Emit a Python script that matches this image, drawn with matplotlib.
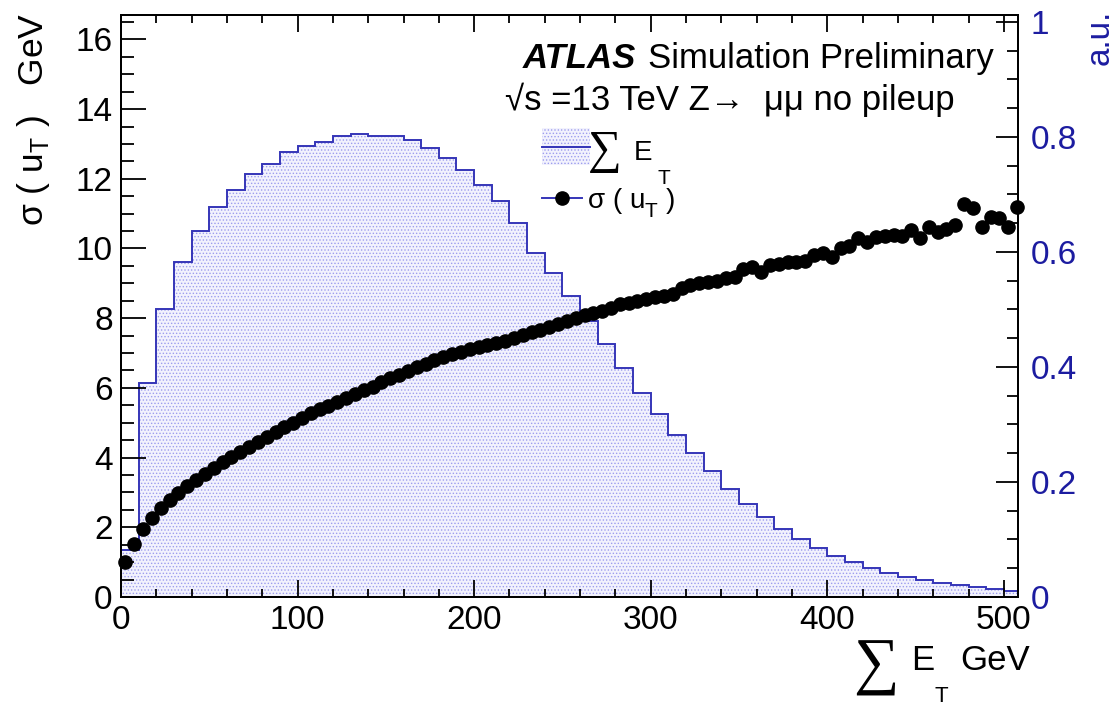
import numpy as np
import matplotlib.pyplot as plt
from matplotlib.patches import Rectangle
from matplotlib.lines import Line2D
from matplotlib.ticker import MultipleLocator, FuncFormatter

plt.rcParams['font.family'] = ['Liberation Sans', 'DejaVu Sans']
plt.rcParams['mathtext.fontset'] = 'custom'
plt.rcParams['mathtext.rm'] = 'Liberation Sans'
plt.rcParams['hatch.linewidth'] = 0.6

# sum E_T distribution, 10 GeV bins (a.u.)
bin_edges = np.arange(0, 520, 10)
hist_vals = [0.082, 0.372, 0.501, 0.583, 0.637, 0.679, 0.708, 0.736, 0.753, 0.773,
             0.785, 0.792, 0.801, 0.805, 0.802, 0.802, 0.794, 0.780, 0.763, 0.743,
             0.717, 0.688, 0.650, 0.599, 0.564, 0.524, 0.480, 0.440, 0.398, 0.355,
             0.319, 0.281, 0.251, 0.219, 0.188, 0.162, 0.139, 0.119, 0.100, 0.085,
             0.072, 0.060, 0.050, 0.042, 0.035, 0.030, 0.025, 0.021, 0.017, 0.014,
             0.011]

# sigma(u_T) in GeV, 5 GeV steps
sigma_x = np.arange(2.5, 510, 5)
sigma_vals = [1.00, 1.52, 1.94, 2.28, 2.54, 2.78, 2.98, 3.18, 3.36, 3.52,
              3.69, 3.88, 4.03, 4.17, 4.31, 4.46, 4.60, 4.74, 4.89, 5.00,
              5.13, 5.27, 5.39, 5.48, 5.60,
              5.71, 5.82, 5.93, 6.04, 6.16, 6.27, 6.38, 6.49, 6.59, 6.69,
              6.79, 6.88, 6.96, 7.04, 7.11, 7.18, 7.24, 7.30, 7.36, 7.44,
              7.51, 7.59, 7.66, 7.74, 7.82,
              7.93, 8.02, 8.09, 8.15, 8.20, 8.30, 8.40, 8.44, 8.48, 8.55,
              8.60, 8.63, 8.68, 8.88, 8.95, 9.00, 9.04, 9.08, 9.14, 9.19,
              9.40, 9.46, 9.32, 9.52, 9.56,
              9.60, 9.62, 9.65, 9.81, 9.86, 9.77, 10.00, 10.07, 10.29, 10.20,
              10.32, 10.36, 10.39, 10.36, 10.53, 10.29, 10.61, 10.48, 10.55, 10.67,
              11.28, 11.15, 10.63, 10.91, 10.87, 10.63, 11.20]

W, H = 1116, 707
blue_line = '#3535b8'
blue_txt = '#1c1ca0'
fill_face = '#f2f2fd'
hatch_col = '#9c9cee'


def px(x, y):
    return x / W, 1 - y / H


fig = plt.figure(figsize=(W / 100, H / 100), dpi=100)
rect = [121 / W, 1 - 597 / H, (1018 - 121) / W, (597 - 15) / H]
ax = fig.add_axes(rect)
ax2 = ax.twinx()
ax.set_zorder(2)
ax2.set_zorder(1)
ax.patch.set_visible(False)
ax2.patch.set_visible(True)
ax2.patch.set_facecolor('white')

ax2.stairs(hist_vals, bin_edges, fill=True, facecolor=fill_face,
           edgecolor=hatch_col, hatch='.....', linewidth=0)
ax2.stairs(hist_vals, bin_edges, color=blue_line, linewidth=1.4)
ax.plot(sigma_x, sigma_vals, 'o', color='black', ms=9.5, clip_on=False)

ax.set_xlim(0, 508)
ax.set_ylim(0, 16.7)
ax2.set_ylim(0, 1.012)

fmt = FuncFormatter(lambda v, p: '%g' % round(v, 3))
ax.xaxis.set_major_locator(MultipleLocator(100))
ax.xaxis.set_minor_locator(MultipleLocator(20))
ax.yaxis.set_major_locator(MultipleLocator(2))
ax.yaxis.set_minor_locator(MultipleLocator(0.5))
ax.yaxis.set_major_formatter(fmt)
ax2.yaxis.set_major_locator(MultipleLocator(0.2))
ax2.yaxis.set_minor_locator(MultipleLocator(0.05))
ax2.yaxis.set_major_formatter(fmt)

ax.tick_params(which='both', direction='in', top=True, right=False,
               labelsize=24, width=1.3, pad=6)
ax.tick_params(axis='x', which='major', length=12)
ax.tick_params(axis='x', which='minor', length=6)
ax.tick_params(axis='y', which='major', length=18)
ax.tick_params(axis='y', which='minor', length=9)
ax2.tick_params(which='both', direction='in', labelsize=24, width=1.3,
                labelcolor=blue_txt, pad=9)
ax2.tick_params(which='major', length=16)
ax2.tick_params(which='minor', length=8)
for a in (ax, ax2):
    for s in a.spines.values():
        s.set_linewidth(1.4)

# axis titles
fig.text(*px(34, 13), 'σ ( u$_{\\mathregular{T}}$ )   GeV', rotation=90,
         fontsize=25.5, ha='center', va='top')
fig.text(*px(1100, 10), 'a.u.', rotation=90, fontsize=24, color=blue_txt,
         ha='center', va='top')
fig.text(*px(876, 668), '∑', fontsize=46, ha='center', va='center',
         family=['Liberation Serif', 'DejaVu Serif'])
fig.text(*px(911, 661), 'E', fontsize=25, ha='left', va='center')
fig.text(*px(941, 697), 'T', fontsize=16, ha='center', va='center')
fig.text(*px(960, 661), 'GeV', fontsize=25, ha='left', va='center')

# ATLAS label
fig.text(*px(523, 68), 'ATLAS', fontsize=25, fontweight='bold',
         fontstyle='italic', va='baseline')
fig.text(*px(648, 68), 'Simulation Preliminary', fontsize=25, va='baseline')
fig.text(*px(505, 110), '√s =13 TeV Z→  μμ no pileup', fontsize=25,
         va='baseline')

# legend
x0, y0 = px(542, 165)
fig.add_artist(Rectangle((x0, y0), 48 / W, 37 / H, transform=fig.transFigure,
                         facecolor=fill_face, edgecolor=hatch_col,
                         hatch='.....', linewidth=0, zorder=5))
fig.add_artist(Line2D([542 / W, 590 / W], [1 - 147 / H] * 2,
                      transform=fig.transFigure, color=blue_line, lw=1.4,
                      zorder=6))
fig.add_artist(Line2D([542 / W, 582 / W], [1 - 198 / H] * 2,
                      transform=fig.transFigure, color=blue_line, lw=1.4,
                      zorder=6))
fig.add_artist(Line2D([562 / W], [1 - 198 / H], transform=fig.transFigure,
                      marker='o', color='black', ms=9.5, zorder=7))
fig.text(*px(605, 152), '∑', fontsize=34, ha='center', va='center',
         family=['Liberation Serif', 'DejaVu Serif'], zorder=6)
fig.text(*px(634, 153), 'E', fontsize=20, ha='left', va='center', zorder=6)
fig.text(*px(664, 178), 'T', fontsize=15, ha='center', va='center', zorder=6)
fig.text(*px(588, 201), 'σ ( u', fontsize=20, ha='left', va='center', zorder=6)
fig.text(*px(651, 212), 'T', fontsize=15, ha='center', va='center', zorder=6)
fig.text(*px(666, 201), ')', fontsize=20, ha='left', va='center', zorder=6)

fig.savefig('out.png', dpi=100)
